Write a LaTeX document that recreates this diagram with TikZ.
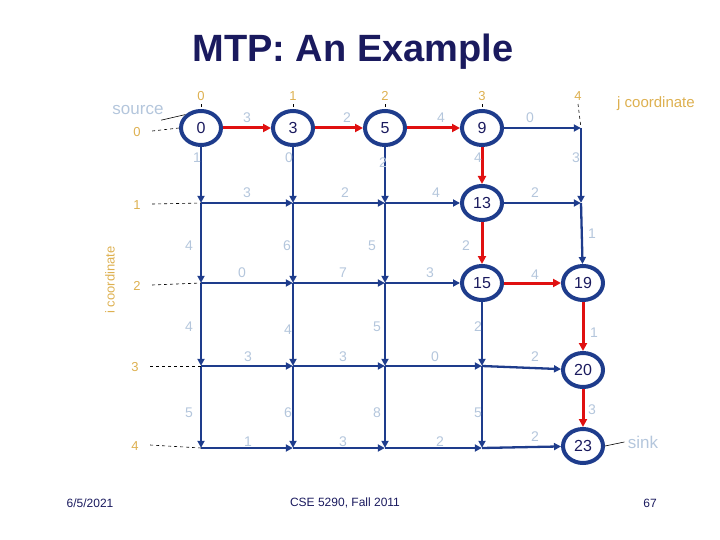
\documentclass[tikz,border=0pt]{standalone}
\usepackage{fontspec}
\setmainfont{Liberation Sans}
\usetikzlibrary{arrows.meta,shapes.geometric}
\definecolor{gb}{HTML}{1E3C8C}
\definecolor{wl}{HTML}{B4C6DC}
\definecolor{ix}{HTML}{DDB050}
\definecolor{rd}{HTML}{E01010}
\definecolor{tt}{HTML}{1A1A5E}
\tikzset{
  x=1pt,y=-1pt,
  pt/.style={inner sep=0pt,minimum size=0pt},
  cir/.style={ellipse,draw=gb,line width=4pt,minimum width=40pt,minimum height=34pt,inner sep=0pt,font=\fontsize{16}{16}\selectfont,text=tt},
  ed/.style={draw=gb,line width=2.3pt,-{Triangle[length=7pt,width=7pt]}},
  red/.style={draw=rd,line width=3pt,-{Triangle[length=8pt,width=8pt]}},
  wt/.style={text=wl,font=\fontsize{14}{14}\selectfont},
  idx/.style={text=ix,font=\fontsize{13}{13}\selectfont},
  dl/.style={draw=black,dashed,line width=0.6pt},
}
\begin{document}
\begin{tikzpicture}
\useasboundingbox (0,0) rectangle (720,540);
\node[font=\bfseries\fontsize{38}{38}\selectfont,text=tt] (title) at (353,52) {MTP: An Example};
% grid nodes
\node[cir] (n00) at (201,128) {0};
\node[cir] (n01) at (293,128) {3};
\node[cir] (n02) at (385,128) {5};
\node[cir] (n03) at (482,128) {9};
\node[pt]  (n04) at (581,128) {};
\node[pt]  (n10) at (201,203) {};
\node[pt]  (n11) at (293,203) {};
\node[pt]  (n12) at (385,203) {};
\node[cir] (n13) at (482,203) {13};
\node[pt]  (n14) at (581,203) {};
\node[pt]  (n20) at (201,283) {};
\node[pt]  (n21) at (293,283) {};
\node[pt]  (n22) at (385,283) {};
\node[cir] (n23) at (482,283) {15};
\node[cir] (n24) at (583,283) {19};
\node[pt]  (n30) at (201,366) {};
\node[pt]  (n31) at (293,366) {};
\node[pt]  (n32) at (385,366) {};
\node[pt]  (n33) at (482,366) {};
\node[cir] (n34) at (583,370) {20};
\node[pt]  (n40) at (201,448) {};
\node[pt]  (n41) at (293,448) {};
\node[pt]  (n42) at (385,448) {};
\node[pt]  (n43) at (482,448) {};
\node[cir] (n44) at (583,446) {23};
% horizontal edges
\draw[red] (n00)--(n01); \draw[red] (n01)--(n02); \draw[red] (n02)--(n03); \draw[ed] (n03)--(n04);
\draw[ed] (n10)--(n11); \draw[ed] (n11)--(n12); \draw[ed] (n12)--(n13); \draw[ed] (n13)--(n14);
\draw[ed] (n20)--(n21); \draw[ed] (n21)--(n22); \draw[ed] (n22)--(n23); \draw[red] (n23)--(n24);
\draw[ed] (n30)--(n31); \draw[ed] (n31)--(n32); \draw[ed] (n32)--(n33); \draw[ed] (n33)--(n34);
\draw[ed] (n40)--(n41); \draw[ed] (n41)--(n42); \draw[ed] (n42)--(n43); \draw[ed] (n43)--(n44);
% vertical edges
\draw[ed] (n00)--(n10); \draw[ed] (n10)--(n20); \draw[ed] (n20)--(n30); \draw[ed] (n30)--(n40);
\draw[ed] (n01)--(n11); \draw[ed] (n11)--(n21); \draw[ed] (n21)--(n31); \draw[ed] (n31)--(n41);
\draw[ed] (n02)--(n12); \draw[ed] (n12)--(n22); \draw[ed] (n22)--(n32); \draw[ed] (n32)--(n42);
\draw[red] (n03)--(n13); \draw[red] (n13)--(n23); \draw[ed] (n23)--(n33); \draw[ed] (n33)--(n43);
\draw[ed] (n04)--(n14); \draw[ed] (n14)--(n24); \draw[red] (n24)--(n34); \draw[red] (n34)--(n44);
% weights horizontal
\node[wt] (h1) at (247,118) {3}; \node[wt] (h2) at (347,118) {2}; \node[wt] (h3) at (441,118) {4}; \node[wt] (h4) at (530,118) {0};
\node[wt] (h5) at (247,193) {3}; \node[wt] (h6) at (345,193) {2}; \node[wt] (h7) at (436,193) {4}; \node[wt] (h8) at (535,193) {2};
\node[wt] (h9) at (242,273) {0}; \node[wt] (h10) at (343,273) {7}; \node[wt] (h11) at (430,273) {3}; \node[wt] (h12) at (535,275) {4};
\node[wt] (h13) at (248,357) {3}; \node[wt] (h14) at (343,357) {3}; \node[wt] (h15) at (435,357) {0}; \node[wt] (h16) at (535,357) {2};
\node[wt] (h17) at (248,442) {1}; \node[wt] (h18) at (343,442) {3}; \node[wt] (h19) at (440,442) {2}; \node[wt] (h20) at (535,437) {2};
% weights vertical
\node[wt] (v1) at (197,158) {1}; \node[wt] (v2) at (189,246) {4}; \node[wt] (v3) at (189,327) {4}; \node[wt] (v4) at (189,413) {5};
\node[wt] (v5) at (289,158) {0}; \node[wt] (v6) at (287,246) {6}; \node[wt] (v7) at (288,330) {4}; \node[wt] (v8) at (288,413) {6};
\node[wt] (v9) at (383,163) {2}; \node[wt] (v10) at (372,246) {5}; \node[wt] (v11) at (377,327) {5}; \node[wt] (v12) at (377,413) {8};
\node[wt] (v13) at (478,158) {4}; \node[wt] (v14) at (466,246) {2}; \node[wt] (v15) at (478,327) {2}; \node[wt] (v16) at (478,413) {5};
\node[wt] (v17) at (576,158) {3}; \node[wt] (v18) at (592,234) {1}; \node[wt] (v19) at (594,333) {1}; \node[wt] (v20) at (592,410) {3};
% indices
\node[idx] (r0) at (137,132) {0}; \node[idx] (r1) at (137,205) {1}; \node[idx] (r2) at (137,286) {2}; \node[idx] (r3) at (135,367) {3}; \node[idx] (r4) at (135,446) {4};
\draw[dl] (r0.east)++(8,-1) -- (n00.west);
\draw[dl] (r1.east)++(8,-1) -- (n10);
\draw[dl] (r2.east)++(8,-1) -- (n20);
\draw[dl] (r3.east)++(8,-1) -- (n30);
\draw[dl] (r4.east)++(8,-1) -- (n40);
\node[idx] (c0) at (201,96) {0}; \node[idx] (c1) at (293,96) {1}; \node[idx] (c2) at (385,96) {2}; \node[idx] (c3) at (482,96) {3}; \node[idx] (c4) at (578,96) {4};
\draw[dl] (c0.south) -- (n00.north); \draw[dl] (c1.south) -- (n01.north); \draw[dl] (c2.south) -- (n02.north); \draw[dl] (c3.south) -- (n03.north); \draw[dl] (c4.south) -- (n04);
\node[idx,font=\fontsize{15}{15}\selectfont] (jc) at (656,104) {j coordinate};
\node[idx,rotate=90,font=\fontsize{13}{13}\selectfont] (ic) at (110,280) {i coordinate};
\node[text=wl,font=\fontsize{17}{17}\selectfont] (src) at (138,110) {source};
\draw[line width=0.6pt] (src.south east)++(-6,2) -- (n00.north west);
\node[text=wl,font=\fontsize{17}{17}\selectfont] (snk) at (643,442) {sink};
\draw[line width=0.6pt] (n44.east) -- (snk.west);
% footer
\node[text=tt,font=\fontsize{12}{12}\selectfont] (f1) at (90,503) {6/5/2021};
\node[text=tt,font=\fontsize{12}{12}\selectfont] (f2) at (345,503) {CSE 5290, Fall 2011};
\node[text=tt,font=\fontsize{12}{12}\selectfont] (f3) at (650,503) {67};
\end{tikzpicture}
\end{document}
